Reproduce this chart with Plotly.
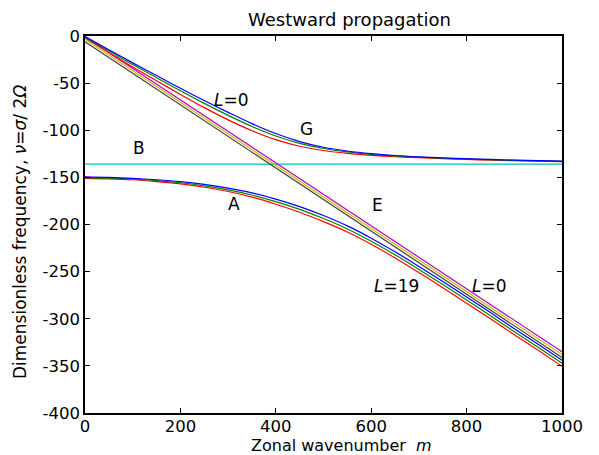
import plotly.graph_objects as go

# Zonal wavenumber samples
m = [0, 50, 100, 150, 200, 250, 300, 350, 400, 450, 500,
     550, 600, 650, 700, 750, 800, 850, 900, 950, 1000]

# Branch G (upper)
G_blue = [-0.5, -14.5, -28.5, -42, -55.5, -68.5, -81, -93, -103.5, -112, -118,
          -122, -124.8, -126.8, -128.2, -129.3, -130.2, -131, -131.7, -132.3, -132.8]
G_green = [-1.2, -15.7, -30.3, -44.2, -58.1, -71.5, -84.2, -96, -106.1, -114, -119.4,
           -123, -125.5, -127.3, -128.6, -129.7, -130.5, -131.3, -132, -132.5, -133]
G_red = [-2, -17.5, -33, -47.5, -62, -76, -89, -100.5, -110, -117, -121.5,
         -124.5, -126.6, -128.1, -129.2, -130.2, -131, -131.7, -132.3, -132.8, -133.3]

# Branch A (lower)
A_blue = [-149.5, -150, -151, -152.5, -154.5, -157.5, -161.5, -166.5, -173, -181, -190.5,
          -201.5, -214.5, -229, -244.5, -260.5, -277, -293.5, -310.5, -327, -344]
A_green = [-150.2, -150.7, -151.7, -153.5, -155.7, -159, -163.2, -168.7, -175.7, -184, -193.7,
           -204.7, -217.7, -232.2, -247.7, -263.7, -280.2, -296.7, -313.7, -330.2, -347.2]
A_red = [-151, -151.5, -152.5, -154.5, -157, -160.5, -165, -171, -178.5, -187, -197,
         -208, -221, -235.5, -251, -267, -283.5, -300, -317, -333.5, -350.5]

# Branch E (straight lines) and level B
m_ends = [0, 1000]
E_magenta = [-1, -335]
E_yellow = [-3.5, -338]
E_black = [-6, -341]
B_level = [-136, -136]

x_ticks = [0, 200, 400, 600, 800, 1000]
x_tick_labels = ["0", "200", "400", "600", "800", "1000"]
y_ticks = [0, -50, -100, -150, -200, -250, -300, -350, -400]
y_tick_labels = ["0", "-50", "-100", "-150", "-200", "-250", "-300", "-350", "-400"]

BLUE = "#0000ff"
GREEN = "#008000"
RED = "#ff0000"
CYAN = "#00bfbf"
MAGENTA = "#bf00bf"
YELLOW = "#bfbf00"
DARK = "#404040"

FONT = "DejaVu Sans"

fig = go.Figure()

def add(x, y, color, spline=True):
    fig.add_trace(go.Scatter(
        x=x, y=y, mode="lines",
        line=dict(color=color, width=1.2, shape="spline" if spline else "linear", smoothing=0.8),
        showlegend=False, hoverinfo="skip"))

add(m_ends, B_level, CYAN, False)
add(m_ends, E_magenta, MAGENTA, False)
add(m_ends, E_yellow, YELLOW, False)
add(m_ends, E_black, DARK, False)
for ys, c in [(G_red, RED), (G_green, GREEN), (G_blue, BLUE),
              (A_red, RED), (A_green, GREEN), (A_blue, BLUE)]:
    add(m, ys, c)

labels = [
    ("<i>L</i>=0", 308, -68),
    ("G", 464, -99),
    ("B", 113, -119),
    ("A", 312, -178),
    ("E", 613, -179),
    ("<i>L</i>=19", 653, -265),
    ("<i>L</i>=0", 847, -265),
]
for txt, xx, yy in labels:
    fig.add_annotation(x=xx, y=yy, text=txt, showarrow=False,
                       font=dict(family=FONT, size=17, color="black"),
                       xanchor="center", yanchor="middle")

W, H = 591, 447
PLOT_B = H - 28 - 377  # bottom margin in px

# axis titles as paper-positioned text
fig.add_annotation(x=0.537, y=-PLOT_B / 377, xref="paper", yref="paper",
                   text="Zonal wavenumber&nbsp; <i>m</i>", showarrow=False,
                   xanchor="center", yanchor="bottom", borderpad=0, borderwidth=0,
                   font=dict(family=FONT, size=16, color="black"))
fig.add_annotation(x=-65 / 477, y=(413 - 232) / 377, xref="paper", yref="paper",
                   text="Dimensionless frequency, <i>ν</i>=<i>σ</i>/ 2<i>Ω</i>",
                   textangle=-90, showarrow=False,
                   xanchor="center", yanchor="middle",
                   font=dict(family=FONT, size=17, color="black"))

axis_common = dict(
    showline=True, linecolor="black", linewidth=1.5, mirror="ticks",
    ticks="inside", ticklen=5, tickwidth=1, tickcolor="black",
    showgrid=False, zeroline=False, automargin=False,
    tickfont=dict(family=FONT, size=16.5, color="black"),
)

fig.update_layout(
    width=W, height=H,
    margin=dict(l=77, r=W - 77 - 477, t=28, b=PLOT_B, pad=0),
    paper_bgcolor="white", plot_bgcolor="white",
    title=dict(text="Westward propagation", x=0.5545, xref="paper", xanchor="center",
               y=1 - 11.5 / H, yref="container", yanchor="middle",
               font=dict(family=FONT, size=18, color="black")),
    xaxis=dict(range=[0, 1000], tickvals=x_ticks, ticktext=x_tick_labels,
               ticklabelstandoff=-3, **axis_common),
    yaxis=dict(range=[-400, 0], tickvals=y_ticks, ticktext=y_tick_labels, **axis_common),
)

fig.write_html("out.html")
